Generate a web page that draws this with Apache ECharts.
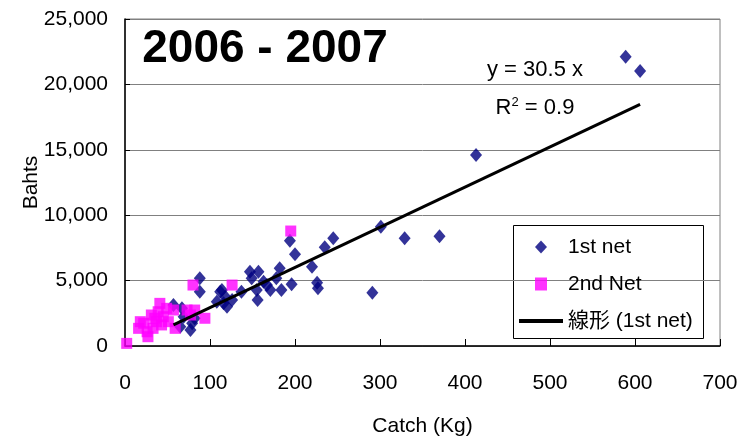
<!DOCTYPE html>
<html>
<head>
<meta charset="utf-8">
<script src="https://cdn.jsdelivr.net/npm/echarts@6/dist/echarts.min.js"></script>
<style>html,body{margin:0;padding:0;background:#fff}#c{width:754px;height:446px}</style>
</head>
<body>
<div id="c"></div>
<script>
const FONT = "'Liberation Sans',Arial,'Noto Sans CJK JP',sans-serif";

const titleText = '2006 - 2007';
const eqText = 'y = 30.5 x';
const r2Value = '0.9';
const xName = 'Catch (Kg)';
const yName = 'Bahts';
const seriesNames = ['1st net', '2nd Net', '線形 (1st net)'];

const net1 = [
  [413,14600],[301,9120],[329,8230],[370,8390],[291,4070],[245,8230],[235,7550],[194,8050],
  [200,7010],[220,6060],[226,4840],[227,4410],[196,4720],[182,5940],[184,4280],[589,22120],
  [606,21020],[157,5680],[147,5680],[178,5180],[171,4280],[163,4920],[155,4280],[156,3520],
  [167,4660],[149,5180],[137,4150],[118,3770],[126,3520],[120,3000],[114,4280],[88,5180],
  [88,4150],[112,4150],[108,3390],[116,3260],[57,3130],[67,2880],[69,2240],[79,1740],
  [77,1220],[65,1480],[82,2120]
];
const net2 = [
  [2,200],[16,1350],[22,1740],[26,1090],[27,710],[33,1350],[35,2120],[31,2370],[41,3260],
  [39,2620],[45,2240],[49,2880],[51,1860],[43,1610],[59,1350],[73,2750],[77,2370],[82,2750],
  [94,2120],[57,2750],[37,1860],[18,1860],[80,4660],[126,4660],[195,8790]
];
const trend = [[57,1620],[606,18480]];

const chart = echarts.init(document.getElementById('c'));
chart.setOption({
  animation: false,
  backgroundColor: '#fff',
  grid: {left: 125, right: 34, top: 19, bottom: 100, show: true, borderColor: '#808080', borderWidth: 1,
    containLabel: false, outerBoundsMode: 'none'},
  xAxis: {
    type: 'value', min: 0, max: 700, interval: 100,
    name: xName, nameLocation: 'middle', nameGap: 70, nameMoveOverlap: false,
    nameTextStyle: {fontFamily: FONT, fontSize: 21, color: '#000'},
    axisLine: {show: true, lineStyle: {color: '#000', width: 1.5}},
    axisTick: {show: true, inside: true, length: 7, lineStyle: {color: '#000'}},
    axisLabel: {fontFamily: FONT, fontSize: 21, color: '#000', margin: 27},
    splitLine: {show: false}
  },
  yAxis: {
    type: 'value', min: 0, max: 25000, interval: 5000,
    name: yName, nameLocation: 'middle', nameGap: 83, nameMoveOverlap: false,
    nameTextStyle: {fontFamily: FONT, fontSize: 21, color: '#000'},
    axisLine: {show: true, lineStyle: {color: '#000', width: 1.5}},
    axisTick: {show: true, inside: true, length: 5, lineStyle: {color: '#000'}},
    axisLabel: {fontFamily: FONT, fontSize: 21, color: '#000', margin: 17,
      formatter: v => v.toLocaleString('en-US')},
    splitLine: {show: true, lineStyle: {color: '#808080', width: 1}}
  },
  legend: [
    {
      orient: 'vertical', left: 535, top: 236, padding: 0, itemGap: 15,
      itemWidth: 12, itemHeight: 13,
      textStyle: {fontFamily: FONT, fontSize: 21, color: '#000', lineHeight: 22, padding: [0, 0, 0, 16]},
      data: [seriesNames[0], seriesNames[1]]
    },
    {
      orient: 'vertical', left: 519, top: 310, padding: 0,
      itemWidth: 44, itemHeight: 4, icon: 'rect',
      textStyle: {fontFamily: FONT, fontSize: 21, color: '#000', lineHeight: 22},
      data: [seriesNames[2]]
    }
  ],
  series: [
    {name: seriesNames[0], type: 'scatter', data: net1, symbol: 'diamond', symbolSize: [12, 14],
      itemStyle: {color: '#000080'}, z: 2},
    {name: seriesNames[1], type: 'scatter', data: net2, symbol: 'rect', symbolSize: [11, 11],
      itemStyle: {color: '#FF00FF'}, z: 3},
    {name: seriesNames[2], type: 'line', data: trend, symbol: 'none', showSymbol: false,
      lineStyle: {color: '#000', width: 3}, itemStyle: {color: '#000'}, z: 4}
  ],
  graphic: [
    {type: 'rect', left: 513, top: 225, shape: {width: 190, height: 113}, z: 0,
      style: {fill: '#fff', stroke: '#000', lineWidth: 1}, silent: true},
    {type: 'text', x: 265, y: 49, z: 10,
      style: {text: titleText, font: "bold 46px 'Liberation Sans', Arial, sans-serif", fill: '#000',
        align: 'center', verticalAlign: 'middle'}},
    {type: 'text', x: 535, y: 70, z: 10,
      style: {text: eqText, fontFamily: FONT, fontSize: 22, fill: '#000', align: 'center', verticalAlign: 'middle'}},
    {type: 'text', x: 535, y: 108, z: 10,
      style: {text: '{a|R}{s|2}{a| = ' + r2Value + '}', align: 'center', verticalAlign: 'middle',
        rich: {a: {fontFamily: FONT, fontSize: 22, color: '#000'},
               s: {fontFamily: FONT, fontSize: 13, color: '#000', verticalAlign: 'top', padding: [0, 0, 12, 0]}}}}
  ]
});
</script>
</body>
</html>
